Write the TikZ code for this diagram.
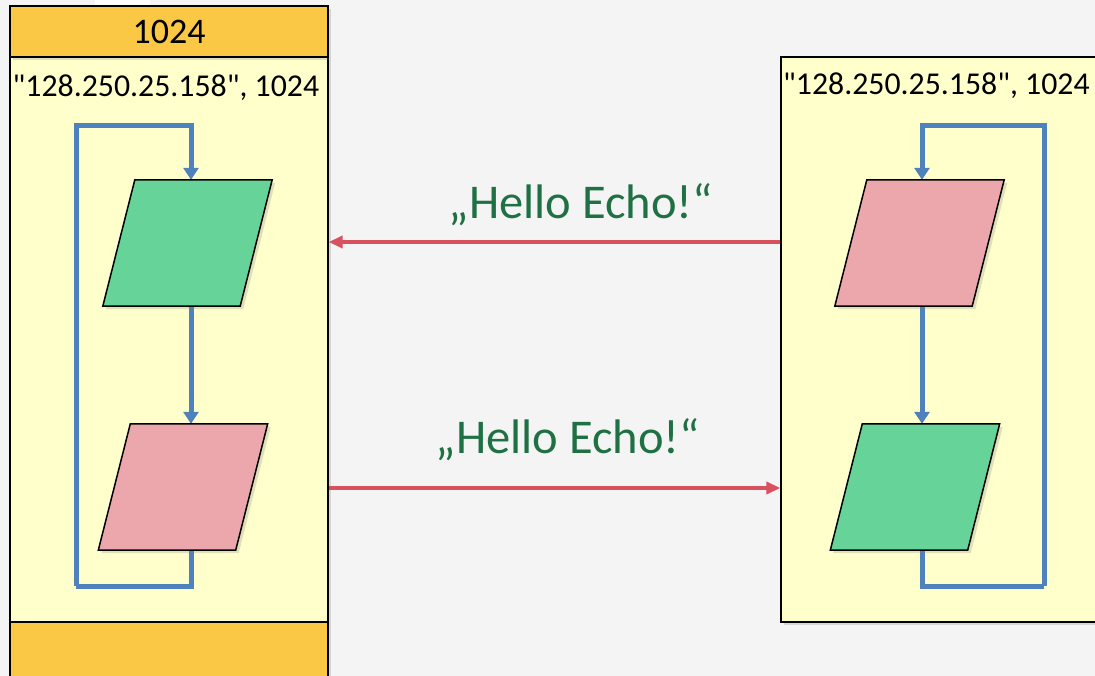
\documentclass[tikz,border=0pt]{standalone}
\usepackage{fontspec}
\setmainfont{Carlito}[Ligatures=TeXOff]
\usetikzlibrary{arrows.meta,shadows}
\definecolor{bgc}{HTML}{F4F4F4}
\definecolor{hdr}{HTML}{FBC845}
\definecolor{bodyc}{HTML}{FFFFCC}
\definecolor{greenp}{HTML}{66D399}
\definecolor{pinkp}{HTML}{EBA7AC}
\definecolor{flowc}{HTML}{4F81BD}
\definecolor{msgc}{HTML}{D9505E}
\definecolor{txtg}{HTML}{1F7144}
\tikzset{
  shd/.style={drop shadow={opacity=0.25,shadow xshift=3pt,shadow yshift=-3pt}},
  boxpart/.style={draw=black,line width=1.3pt,inner sep=0pt,shd},
  parabox/.style={minimum width=169pt,minimum height=126pt,inner sep=0pt},
  paraline/.style={draw=black,line width=1.5pt,line join=miter,shd},
  flow/.style={draw=flowc,line width=5pt},
  flowarr/.style={flow,-{Triangle[length=12pt,width=15pt]}},
  msg/.style={draw=msgc,line width=3.5pt,-{Triangle[length=14pt,width=12pt]}},
  msgtxt/.style={text=txtg,font=\fontsize{48.5}{58}\selectfont},
  addr/.style={font=\fontsize{31.8}{38}\selectfont,inner sep=0pt,anchor=west},
}
\newcommand\drawpara[2]{%
  \path[paraline,fill=#2] (#1.south west) -- ([xshift=32pt]#1.north west)
     -- (#1.north east) -- ([xshift=-32pt]#1.south east) -- cycle;}
\begin{document}
\begin{tikzpicture}[x=1pt,y=-1pt]
\useasboundingbox (0,0) rectangle (1095,676);
\fill[bgc] (0,0) rectangle (1095,676);
\fill[white] (95,0) rectangle (150,5);
\begin{scope}
\clip (0,0) rectangle (1095,676);
% left box
\node[boxpart,fill=bodyc,minimum width=318pt,minimum height=565pt] (Lbody) at (169,339.5) {};
\node[boxpart,fill=hdr,minimum width=318pt,minimum height=51pt,font=\fontsize{36}{43}\selectfont] (Lhead) at (169,31.5) {1024};
\node[boxpart,fill=hdr,minimum width=318pt,minimum height=70pt] (Lfoot) at (169,657) {};
% right box
\node[boxpart,fill=bodyc,minimum width=330pt,minimum height=565pt] (Rbody) at (946,339.5) {};
\end{scope}
\node[addr] (Laddr) at (12.5,88) {"128.250.25.158", 1024};
\node[addr] (Raddr) at (783,86) {"128.250.25.158", 1024};
% parallelograms (bounding nodes)
\node[parabox] (L1) at (187.5,243) {};
\node[parabox] (L2) at (183,487) {};
\node[parabox] (R1) at (919.5,243) {};
\node[parabox] (R2) at (915,487) {};
% left loop
\coordinate (lx) at (191,0);
\coordinate (lt) at (76,126);
\coordinate (lb) at (76,586);
\draw[flowarr] (lb) -- (lt) -| (lx |- L1.north);
\draw[flowarr] (lx |- L1.south) -- (lx |- L2.north);
\draw[flow] (lx |- L2.south) -- (lx |- lb) -- (lb);
% right loop
\coordinate (rx) at (922,0);
\coordinate (rt) at (1044,126);
\coordinate (rb) at (1044,586);
\draw[flowarr] (rb) -- (rt) -| (rx |- R1.north);
\draw[flowarr] (rx |- R1.south) -- (rx |- R2.north);
\draw[flow] (rx |- R2.south) -- (rx |- rb) -- (rb);
\drawpara{L1}{greenp}
\drawpara{L2}{pinkp}
\drawpara{R1}{pinkp}
\drawpara{R2}{greenp}
% messages
\coordinate (m1) at (0,242);
\coordinate (m2) at (0,488);
\draw[msg] (Rbody.west |- m1) -- (Lbody.east |- m1);
\draw[msg] (Lbody.east |- m2) -- (Rbody.west |- m2);
\node[msgtxt] (t1) at (581,205) {„Hello Echo!“};
\node[msgtxt] (t2) at (568,440) {„Hello Echo!“};
\end{tikzpicture}
\end{document}
